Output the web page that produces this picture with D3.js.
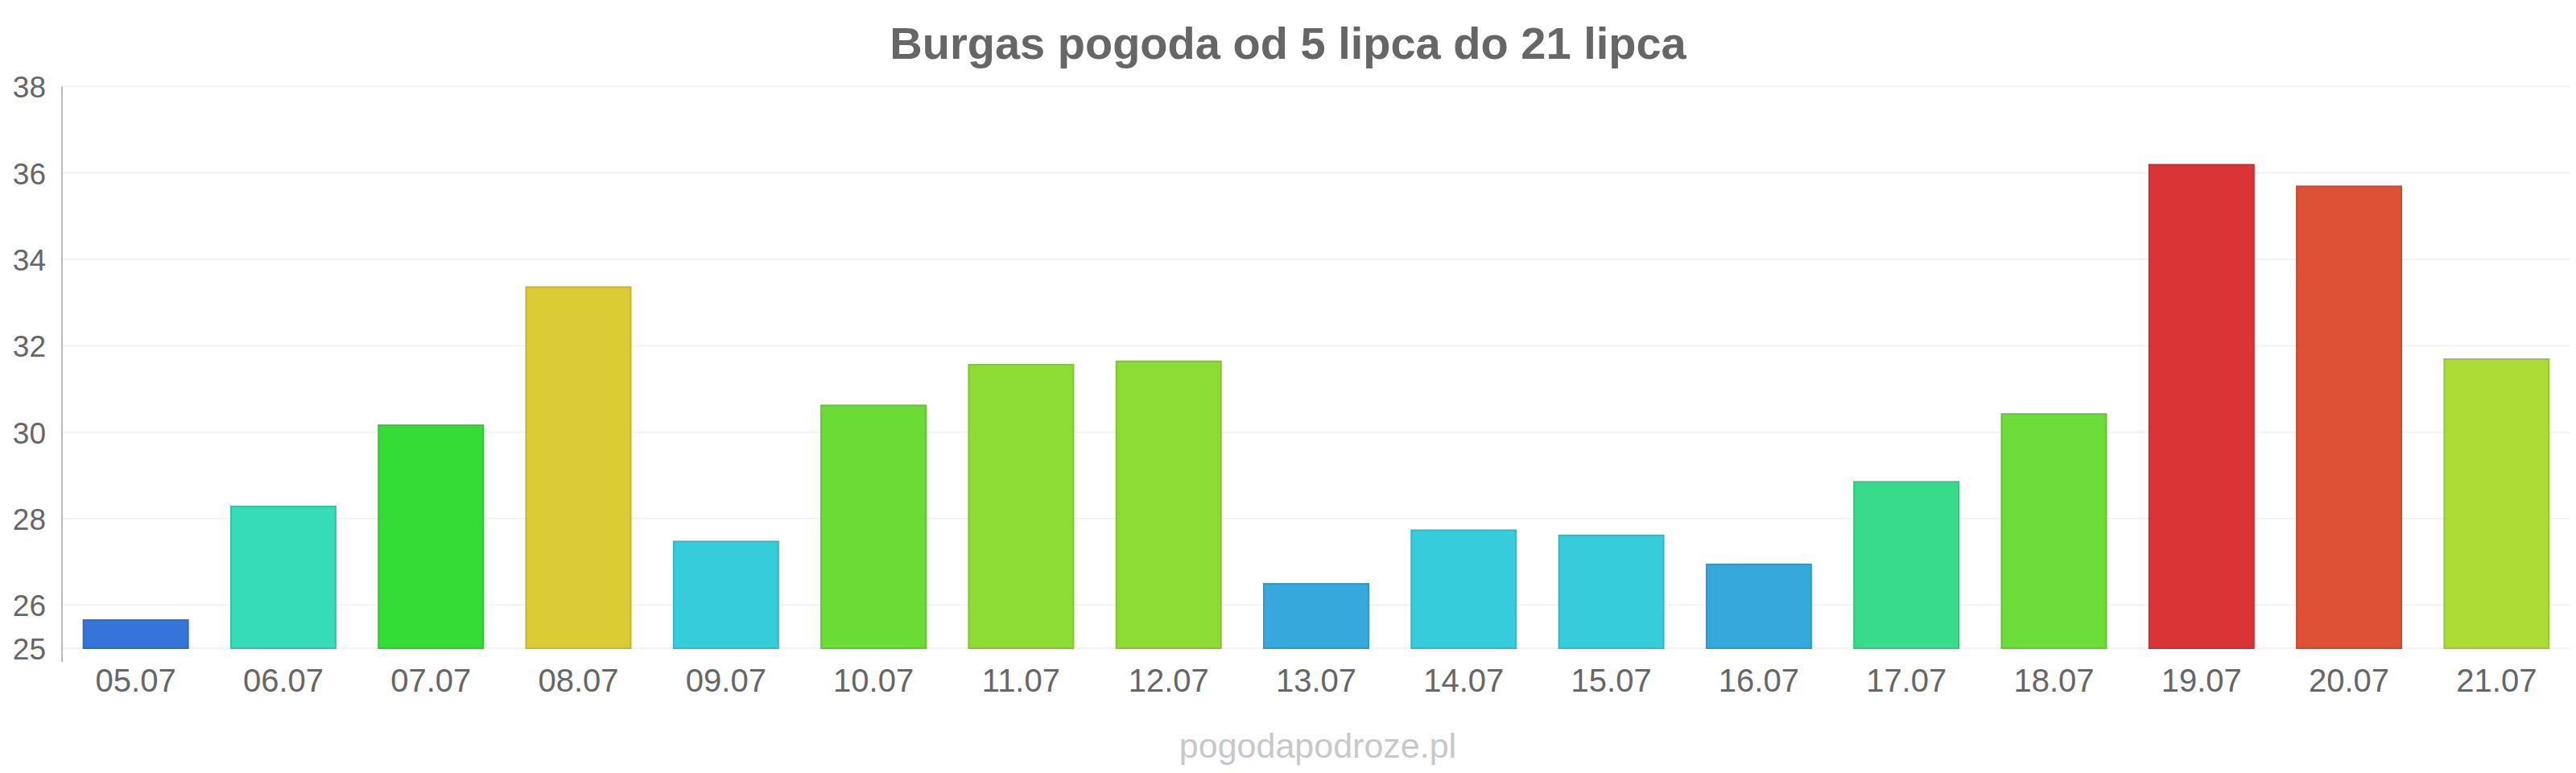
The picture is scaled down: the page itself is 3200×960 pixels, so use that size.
<!DOCTYPE html>
<html lang="pl">
<head>
    <meta charset="utf-8" />
    <title>Burgas pogoda od 5 lipca do 21 lipca</title>
    <script src="https://d3js.org/d3.v7.min.js"></script>
    <style>
        html, body {
            margin: 0;
            padding: 0;
            background: #fff;
        }
        #chart {
            width: 3200px;
            height: 960px;
        }
        text {
            font-family: "Liberation Sans", Arial, sans-serif;
        }
        .title {
            font-size: 56px;
            font-weight: bold;
            fill: #666;
        }
        .tick text {
            font-size: 37px;
            fill: #666;
        }
        .x-axis .tick text {
            font-size: 40px;
        }
        .watermark {
            font-size: 43px;
            fill: #c8c8cc;
        }
    </style>
</head>
<body>
    <div id="chart"></div>
    <script>
        // dni i temperatury
        var days = ['05.07', '06.07', '07.07', '08.07', '09.07', '10.07', '11.07', '12.07', '13.07',
            '14.07', '15.07', '16.07', '17.07', '18.07', '19.07', '20.07', '21.07'];
        var temps = [25.65, 28.28, 30.16, 33.36, 27.47, 30.62, 31.56, 31.64, 26.49,
            27.73, 27.61, 26.94, 28.85, 30.42, 36.19, 35.69, 31.69];
        var yTicks = [25, 26, 28, 30, 32, 34, 36, 38];
        var barColors = ['#3575d9', '#36dbb8', '#35dc35', '#dbcb35', '#35cdd9', '#6bdc35', '#8ddc35',
            '#8ddc35', '#37a8db', '#36ccdb', '#36ccdb', '#37a8db', '#38db8a', '#6cdc38', '#da3436',
            '#dd5236', '#acdb36'];

        (function(d3) {
            'use strict';

            var width = 3200;
            var height = 960;
            var plotLeft = 77, plotRight = 3193, plotTop = 107.5, plotBottom = 805;

            var svg = d3.select('#chart')
                .append('svg')
                .attr('width', width)
                .attr('height', height);

            var x = d3.scaleBand()
                .domain(days)
                .range([plotLeft, plotRight])
                .paddingInner(0.28)
                .paddingOuter(0.14);

            var y = d3.scaleLinear()
                .domain([25, 38])
                .range([plotBottom, plotTop]);

            // siatka
            svg.append('g')
                .selectAll('line')
                .data(yTicks)
                .enter()
                .append('line')
                .attr('x1', plotLeft)
                .attr('x2', plotRight)
                .attr('y1', function(d) { return y(d); })
                .attr('y2', function(d) { return y(d); })
                .attr('stroke', '#f3f3f3')
                .attr('stroke-width', 2);

            // słupki
            svg.append('g')
                .selectAll('rect')
                .data(temps)
                .enter()
                .append('rect')
                .attr('x', function(d, i) { return x(days[i]) + 1; })
                .attr('width', x.bandwidth() - 2)
                .attr('y', function(d) { return y(d); })
                .attr('height', function(d) { return y(25) - y(d); })
                .attr('fill', function(d, i) { return barColors[i]; })
                .attr('stroke', function(d, i) { return d3.color(barColors[i]).darker(0.3); })
                .attr('stroke-width', 2);

            // oś Y
            var yAxis = svg.append('g')
                .attr('transform', 'translate(' + plotLeft + ',0)')
                .call(d3.axisLeft(y).tickValues(yTicks).tickSize(0).tickPadding(20));
            yAxis.select('.domain').remove();
            yAxis.selectAll('.tick text').attr('dy', '0.36em');

            svg.append('line')
                .attr('x1', plotLeft)
                .attr('x2', plotLeft)
                .attr('y1', plotTop)
                .attr('y2', plotBottom + 17)
                .attr('stroke', '#bbb')
                .attr('stroke-width', 2);

            // oś X
            var xAxis = svg.append('g')
                .attr('class', 'x-axis')
                .attr('transform', 'translate(0,' + plotBottom + ')')
                .call(d3.axisBottom(x).tickSize(0).tickPadding(26));
            xAxis.select('.domain').remove();
            xAxis.selectAll('.tick text').attr('dy', '0.71em');

            svg.append('text')
                .attr('class', 'title')
                .attr('x', width / 2)
                .attr('y', 73)
                .attr('text-anchor', 'middle')
                .text('Burgas pogoda od 5 lipca do 21 lipca');

            svg.append('text')
                .attr('class', 'watermark')
                .attr('x', 1637)
                .attr('y', 941)
                .attr('text-anchor', 'middle')
                .text('pogodapodroze.pl');
        })(window.d3);
    </script>
</body>
</html>
